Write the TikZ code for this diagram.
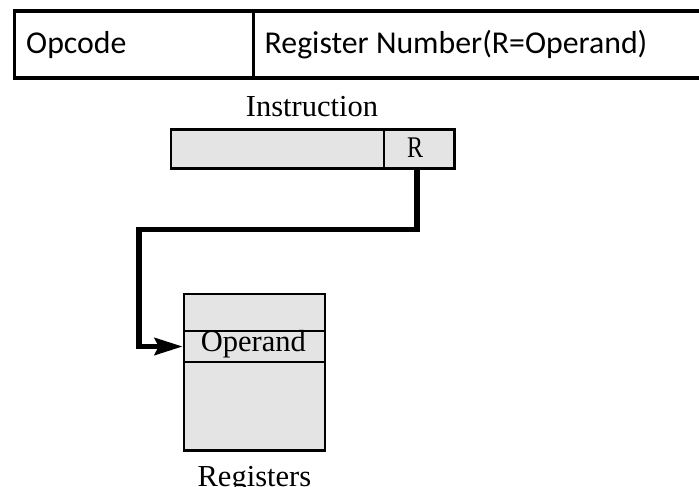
\documentclass[tikz,border=0pt]{standalone}
\usepackage{fontspec}
\setmainfont{Liberation Serif}
\newfontfamily\tablefont{Carlito}
\usetikzlibrary{arrows.meta}
\definecolor{cellgray}{RGB}{228,228,228}
\begin{document}
\begin{tikzpicture}[x=1pt,y=-1pt,
  frame/.style={draw=black,line width=3.2pt,inner sep=0pt,anchor=north west},
  box/.style={draw=black,fill=cellgray,line width=2.3pt,inner sep=0pt,anchor=north west},
  tabletext/.style={font=\tablefont\fontsize{31.8}{38}\selectfont,inner sep=0pt,anchor=base west},
  serif/.style={font=\fontsize{30.5}{36}\selectfont,inner sep=0pt,anchor=base},
  wire/.style={line width=5.5pt,-{Stealth[length=28pt,width=17pt,inset=4pt]}}
]
\useasboundingbox (0,0) rectangle (699,487);

% instruction format table
\node[frame,minimum width=239.5pt,minimum height=67pt] (opcell) at (12.5,9.5) {};
\node[frame,minimum width=460pt,minimum height=67pt] (regcell) at (252,9.5) {};
\node[tabletext] (optxt) at (26,53.3) {Opcode};
\node[tabletext] (regtxt) at (264.5,53.3) {Register Number(R=Operand)};

% instruction word
\node[serif] (instlbl) at (312,116) {Instruction};
\node[box,minimum width=212.7pt,minimum height=39pt] (opfield) at (170,128.3) {};
\node[box,minimum width=70.6pt,minimum height=39pt] (R) at (382.7,128.3) {};
\node[font=\fontsize{30}{36}\selectfont,inner sep=0pt,anchor=base,xscale=0.8] (rlbl) at (415,157) {R};

% register file
\node[box,minimum width=141.3pt,minimum height=37.3pt] (reg1) at (182.7,292.7) {};
\node[box,minimum width=141.3pt,minimum height=30.7pt] (opd) at (182.7,330) {};
\node[box,minimum width=141.3pt,minimum height=88.6pt] (reg3) at (182.7,360.7) {};
\node[serif] (opdtxt) at (253.4,351) {Operand};
\node[serif] (regslbl) at (254.4,486) {Registers};

% register number selects the operand
\coordinate (bendA) at (139,229.5);
\draw[wire] ([xshift=-2.2pt]R.south) |- (bendA) |- (opd.west);
\end{tikzpicture}
\end{document}
